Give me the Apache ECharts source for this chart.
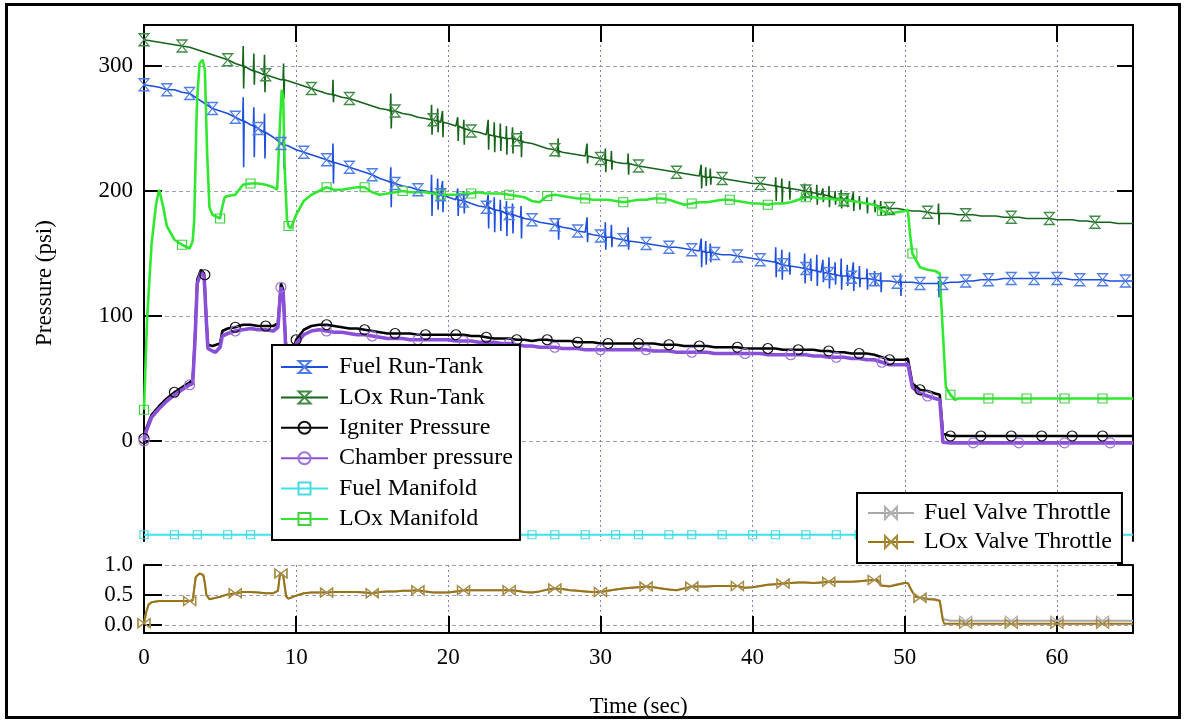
<!DOCTYPE html>
<html>
<head>
<meta charset="utf-8">
<script src="https://cdn.jsdelivr.net/npm/echarts@6.0.0/dist/echarts.min.js"></script>
<style>
html,body{margin:0;padding:0;background:#fff;}
#chart{width:1185px;height:721px;}
</style>
</head>
<body>
<div id="chart"></div>
<script>
// ---------------- DATA ----------------
// Values sampled every 0.5 s from t = 0 to t = 65 s (131 samples each)
const SAMPLE_STEP = 0.5;

const fuelRunTank = [
285,284,283,281,281,279,278,274,270,266,
264,262,259,256,253,250,247,243,238,236,
233,231,229,227,225,223,221,219,217,215,
213,210,208,206,204,203,201,200,199,197,
195,193,192,190,188,187,185,183,182,180,
178,177,175,174,173,171,170,168,167,165,
164,163,162,161,160,159,158,157,156,155,
155,154,153,152,151,150,149,149,148,147,
146,145,144,143,141,140,139,138,137,135,
134,133,132,131,130,130,129,128,128,127,
127,127,126,126,126,126,127,127,128,128,
129,129,129,130,130,130,130,130,130,130,
130,130,129,129,129,129,129,128,128,128,
128];
// pressure transients: [time, high, low, base level]
const fuelRunTankSpikes = [
[6.52,275,219,256],[7.22,267,227,252],[7.92,262,226,247],[9.17,245,218,237],[12.42,238,206,223],[16.22,219,187,207],
[18.9,213,180,199],[19.3,210,185,198],[19.62,208,183,197],[20.62,202,180,193],[21.02,200,182,192],
[22.62,197,170,187],[23.02,195,167,185],[23.42,193,168,184],[23.82,192,164,182],[24.22,190,166,181],[24.78,188,162,179],
[27.22,178,161,172],[29.12,179,159,166],[30.32,175,153,163],[30.72,173,155,163],[31.82,171,153,160],
[36.62,162,139,152],[36.92,160,141,151],[37.22,158,143,151],
[41.52,155,131,143],[41.92,153,129,141],[42.42,151,133,140],
[43.42,150,126,138],[43.82,146,128,137],[44.22,149,124,136],[44.62,145,127,135],[45.02,147,122,134],[45.42,143,125,133],
[45.82,146,121,132],[46.22,141,124,132],[46.62,143,120,131],[47.02,140,123,130],[47.52,138,121,130],[48.02,136,124,129],
[48.42,135,119,128],[49.72,134,116,127],[52.22,128,115,126]
];

const loxRunTank = [
321,320,319,318,317,316,315,313,311,309,
307,305,302,300,297,295,293,291,289,288,
286,284,282,280,278,277,275,274,272,270,
268,266,265,264,262,261,259,258,257,255,
254,252,250,248,247,245,244,243,242,241,
239,238,236,234,233,231,230,229,228,227,
226,225,223,222,221,220,219,218,217,216,
215,214,213,212,211,211,210,209,208,207,
206,206,205,204,203,202,201,200,198,197,
196,194,193,192,191,190,189,187,186,186,
185,184,184,183,182,182,182,181,181,181,
180,180,180,179,179,179,178,178,178,178,
177,177,177,176,176,175,175,175,174,174,
174];
const loxRunTankSpikes = [
[6.52,316,282,300],[7.22,310,285,296],[7.92,309,279,293],[9.17,302,274,289],[12.42,289,271,277],[16.22,278,250,264],
[18.9,269,245,257],[19.3,266,247,256],[19.62,264,243,255],[20.62,259,240,252],[21.02,257,237,250],
[22.62,257,233,245],[23.02,255,231,244],[23.42,254,232,243],[23.82,252,229,242],[24.22,251,230,242],[24.78,248,227,240],
[27.22,242,227,232],[29.12,238,222,228],[30.32,234,215,225],[30.72,232,217,224],[31.82,230,213,222],
[36.62,221,202,212],[36.92,219,204,211],[37.22,218,205,211],
[41.52,211,192,204],[41.92,210,190,203],[42.42,208,193,202],
[43.42,206,192,200],[43.82,203,193,199],[44.22,205,189,198],[44.62,202,191,197],[45.02,204,187,196],[45.42,200,189,194],
[45.82,201,186,194],[46.22,198,187,193],[46.62,199,184,192],[47.02,196,185,191],[47.52,195,182,190],[48.02,193,183,189],
[48.42,192,180,187],[52.22,190,173,182]
];

const igniterPressure = [
2,21,28,34,39,43,47,129,133,76,
78,90,91,93,93,92,92,92,126,60,
81,89,92,93,93,92,91,90,90,89,
88,87,86,86,86,86,85,85,85,85,
85,85,85,84,84,83,82,82,82,81,
81,80,81,81,80,80,80,79,79,79,
78,78,78,78,78,78,78,78,77,77,
77,76,76,76,76,75,75,75,75,74,
74,74,74,74,73,73,73,73,73,72,
72,71,71,70,70,70,69,67,65,65,
65,46,41,40,38,6,4,4,4,4,
4,4,4,4,4,4,4,4,4,4,
4,4,4,4,4,4,4,4,4,4,
4];
// extra detail points [time, value]
const igniterDetail = [
[0.15,10],[3.2,49],[3.35,83],[3.75,137],[3.95,134],[4.1,97],[4.2,77],[5.15,88],
[8.8,94],[9.15,121],[9.3,81],[50.2,66],[52.3,37],[52.45,15]
];

const chamberPressure = [
0,19,26,32,37,41,45,126,131,72,
75,86,88,89,90,89,89,88,123,58,
78,85,88,89,88,87,87,86,85,85,
84,83,82,82,82,81,81,81,81,81,
81,80,80,80,79,79,79,78,78,77,
76,76,75,75,75,74,74,74,73,73,
73,73,73,73,73,73,73,72,72,72,
71,71,71,71,71,70,70,70,70,70,
70,70,69,69,69,69,69,69,68,68,
67,67,67,66,66,65,65,63,61,61,
61,43,38,36,34,-1,-1.5,-1.5,-1.5,-1.5,
-1.5,-1.5,-1.5,-1.5,-1.5,-1.5,-1.5,-1.5,-1.5,-1.5,
-1.5,-1.5,-1.5,-1.5,-1.5,-1.5,-1.5,-1.5,-1.5,-1.5,
-1.5];
const chamberDetail = [
[0.15,8],[3.2,46],[3.35,80],[3.75,135],[3.95,132],[4.1,95],[4.2,74],[4.7,71],[5.15,84],
[8.8,91],[9.15,118],[9.3,78],[50.2,62],[52.3,33],[52.45,10]
];

const fuelManifold = [
-75,-75,-75,-75,-75,-75,-75,-75,-75,-75,
-75,-75,-75,-75,-75,-75,-75,-75,-75,-75,
-75,-75,-75,-75,-75,-75,-75,-75,-75,-75,
-75,-75,-75,-75,-75,-75,-75,-75,-75,-75,
-75,-75,-75,-75,-75,-75,-75,-75,-75,-75,
-75,-75,-75,-75,-75,-75,-75,-75,-75,-75,
-75,-75,-75,-75,-75,-75,-75,-75,-75,-75,
-75,-75,-75,-75,-75,-75,-75,-75,-75,-75,
-75,-75,-75,-75,-75,-75,-75,-75,-75,-75,
-75,-75,-75,-75,-75,-75,-75,-75,-75,-75,
-75,-75,-75,-75,-75,-75,-75,-75,-75,-75,
-75,-75,-75,-75,-75,-75,-75,-75,-75,-75,
-75,-75,-75,-75,-75,-75,-75,-75,-75,-75,
-75];

const loxManifold = [
25,158,201,172,161,157,154,275,297,181,
178,196,197,205,206,206,205,203,269,172,
181,192,197,200,203,201,201,202,203,203,
199,197,198,199,200,199,199,199,198,197,
197,197,198,198,199,198,198,198,197,196,
195,192,191,196,197,196,195,194,194,193,
193,193,192,191,192,193,193,194,194,193,
191,189,190,191,191,192,193,193,192,191,
190,190,189,190,190,191,193,195,195,194,
194,193,193,192,191,190,189,184,182,183,
184,150,139,137,136,88,37,34,34,34,
34,34,34,34,34,34,34,34,34,34,
34,34,34,34,34,34,34,34,34,34,
34];
const loxManifoldDetail = [
[0.2,97],[0.8,190],[1.25,188],[3.2,160],[3.3,177],[3.45,257],[3.65,302],[3.85,305],
[4.15,230],[4.3,187],[5.1,185],[5.3,195],[8.75,201],[8.95,257],[9.05,281],[9.15,275],
[9.25,217],[9.4,177],[9.65,170],[50.2,185],[50.35,165],[52.3,134],[52.4,110],[52.7,43],[53.3,33]
];

const loxValveThrottle = [
0.03,0.38,0.40,0.40,0.40,0.40,0.40,0.83,0.70,0.44,
0.47,0.51,0.53,0.55,0.55,0.54,0.53,0.53,0.86,0.44,
0.49,0.53,0.54,0.54,0.54,0.55,0.55,0.55,0.55,0.54,
0.53,0.55,0.56,0.56,0.57,0.57,0.58,0.56,0.54,0.54,
0.54,0.56,0.58,0.58,0.58,0.58,0.58,0.58,0.58,0.57,
0.55,0.54,0.56,0.59,0.61,0.60,0.58,0.57,0.56,0.55,
0.55,0.57,0.59,0.61,0.62,0.63,0.64,0.63,0.61,0.59,
0.58,0.61,0.64,0.64,0.64,0.65,0.65,0.65,0.65,0.62,
0.63,0.65,0.67,0.68,0.69,0.70,0.71,0.71,0.70,0.71,
0.72,0.72,0.72,0.72,0.73,0.74,0.75,0.64,0.64,0.67,
0.70,0.55,0.45,0.43,0.42,0.08,0.02,0.02,0.02,0.02,
0.02,0.02,0.02,0.02,0.02,0.02,0.02,0.02,0.02,0.02,
0.02,0.02,0.02,0.02,0.02,0.02,0.02,0.02,0.02,0.02,
0.02];
const loxValveDetail = [
[0.15,0.22],[0.3,0.34],[3.2,0.41],[3.4,0.80],[3.65,0.86],[3.9,0.83],[4.1,0.50],[4.3,0.43],
[8.8,0.57],[8.95,0.87],[9.15,0.82],[9.35,0.47],[48.2,0.75],[48.4,0.66],[50.2,0.70],[50.35,0.62],
[50.7,0.47],[52.3,0.40],[52.6,0.02]
];

const fuelValveThrottle = [
0.03,0.38,0.40,0.40,0.40,0.40,0.40,0.83,0.70,0.44,
0.47,0.51,0.53,0.55,0.55,0.54,0.53,0.53,0.86,0.44,
0.49,0.53,0.54,0.54,0.54,0.55,0.55,0.55,0.55,0.54,
0.53,0.55,0.56,0.56,0.57,0.57,0.58,0.56,0.54,0.54,
0.54,0.56,0.58,0.58,0.58,0.58,0.58,0.58,0.58,0.57,
0.55,0.54,0.56,0.59,0.61,0.60,0.58,0.57,0.56,0.55,
0.55,0.57,0.59,0.61,0.62,0.63,0.64,0.63,0.61,0.59,
0.58,0.61,0.64,0.64,0.64,0.65,0.65,0.65,0.65,0.62,
0.63,0.65,0.67,0.68,0.69,0.70,0.71,0.71,0.70,0.71,
0.72,0.72,0.72,0.72,0.73,0.74,0.75,0.66,0.65,0.68,
0.70,0.56,0.46,0.44,0.43,0.10,0.07,0.07,0.07,0.07,
0.07,0.07,0.07,0.07,0.07,0.07,0.07,0.07,0.07,0.07,
0.07,0.07,0.07,0.07,0.07,0.07,0.07,0.07,0.07,0.07,
0.07];
const fuelValveDetail = [
[0.15,0.22],[0.3,0.34],[3.2,0.41],[3.4,0.80],[3.65,0.86],[3.9,0.83],[4.1,0.50],[4.3,0.43],
[8.8,0.57],[8.95,0.87],[9.15,0.82],[9.35,0.47],[48.2,0.76],[48.4,0.70],[50.2,0.70],[50.35,0.63],
[50.7,0.48],[52.3,0.41],[52.6,0.07]
];

const timeTicks = [0,10,20,30,40,50,60];
const pressureTicks = [0,100,200,300];
const throttleTicks = [0,0.5,1.0];

// ---------------- BUILD ----------------
const FONT = 'Liberation Serif';
const T_MAX = 65;

function buildData(grid, detail, spikes, markerStep) {
  const pts = grid.map((v, i) => ({t: i * SAMPLE_STEP, v: v, g: true, i: i}));
  (detail || []).forEach(p => pts.push({t: p[0], v: p[1]}));
  (spikes || []).forEach(s => {
    pts.push({t: s[0] - 0.03, v: s[3]});
    pts.push({t: s[0], v: s[1]});
    pts.push({t: s[0] + 0.03, v: s[2]});
    pts.push({t: s[0] + 0.06, v: s[3]});
  });
  pts.sort((a, b) => a.t - b.t);
  const marked = new Set();
  for (let k = 0; k * markerStep <= T_MAX + 1e-6; k++) marked.add(Math.round(k * markerStep / SAMPLE_STEP));
  return pts.map(p => (p.g && marked.has(p.i)) ? {value: [p.t, p.v]} : {value: [p.t, p.v], symbol: 'none'});
}

const HOURGLASS = 'path://M0,0L10,0L0,12L10,12Z';
const BOWTIE = 'path://M0,0L0,10L12,0L12,10Z';

function line(name, data, color, markColor, width, symbol, size, xi, yi) {
  return {
    type: 'line', name: name, data: data, xAxisIndex: xi, yAxisIndex: yi,
    symbol: symbol, symbolSize: size, showSymbol: true, showAllSymbol: true,
    lineStyle: {color: color, width: width},
    itemStyle: {color: 'rgba(255,255,255,0)', borderColor: markColor, borderWidth: 1.2},
    emphasis: {disabled: true}, animation: false, silent: true
  };
}

const series = [
  line('Fuel Run-Tank', buildData(fuelRunTank, null, fuelRunTankSpikes, 1.505), '#1e4fdc', '#4d7de6', 1.6, HOURGLASS, [10, 12], 0, 0),
  line('LOx Run-Tank', buildData(loxRunTank, null, loxRunTankSpikes, 2.71), '#15641a', '#3f8a44', 1.6, HOURGLASS, [10, 12], 0, 0),
  line('Igniter Pressure', buildData(igniterPressure, igniterDetail, null, 2.04), '#000000', '#111111', 2.6, 'circle', 10, 0, 0),
  line('Chamber pressure', buildData(chamberPressure, chamberDetail, null, 3.02), '#8a4fd8', '#9c72dc', 3.6, 'circle', 10, 0, 0),
  line('Fuel Manifold', buildData(fuelManifold, null, null, 1.81), '#3ee2e8', '#4ad8e0', 2, 'rect', 8, 0, 0),
  line('LOx Manifold', buildData(loxManifold, loxManifoldDetail, null, 2.415), '#30e830', '#42cf42', 2.6, 'rect', 9, 0, 0),
  line('Fuel Valve Throttle', buildData(fuelValveThrottle, fuelValveDetail, null, 3.0), '#a8a8a8', '#b0b0b0', 2, BOWTIE, [12, 9], 1, 2),
  line('LOx Valve Throttle', buildData(loxValveThrottle, loxValveDetail, null, 3.0), '#9a7414', '#a88a3a', 2, BOWTIE, [12, 9], 1, 2)
];

const axisLineStyle = {color: '#000', width: 2};
const labelStyle = {fontFamily: FONT, fontSize: 23, color: '#000'};
const vGrid = {show: true, lineStyle: {color: '#7c7cc6', type: [2, 3], width: 1}};
const hGrid = {show: true, lineStyle: {color: '#9c9cb8', type: [4, 3], width: 1}};

const option = {
  backgroundColor: '#fff',
  animation: false,
  grid: [
    {left: 144, top: 25, width: 989, height: 516},
    {left: 144, top: 565, width: 989, height: 68}
  ],
  xAxis: [
    {gridIndex: 0, type: 'value', position: 'top', min: 0, max: T_MAX, interval: 10,
     axisLine: {show: true, onZero: false, lineStyle: axisLineStyle},
     axisTick: {show: true, inside: true, length: 17, lineStyle: axisLineStyle, customValues: timeTicks.slice(1)},
     axisLabel: {show: false},
     splitLine: vGrid},
    {gridIndex: 1, type: 'value', position: 'bottom', min: 0, max: T_MAX, interval: 10,
     name: 'Time (sec)', nameLocation: 'middle', nameGap: 62,
     nameTextStyle: {fontFamily: FONT, fontSize: 23, color: '#000'},
     axisLine: {show: true, onZero: false, lineStyle: axisLineStyle},
     axisTick: {show: true, inside: true, length: 17, lineStyle: axisLineStyle, customValues: timeTicks},
     axisLabel: Object.assign({customValues: timeTicks, margin: 13}, labelStyle),
     splitLine: vGrid}
  ],
  yAxis: [
    {gridIndex: 0, type: 'value', position: 'left', min: -80, max: 332.8,
     name: 'Pressure (psi)', nameLocation: 'middle', nameGap: 88,
     nameTextStyle: {fontFamily: FONT, fontSize: 23, color: '#000'},
     axisLine: {show: true, onZero: false, lineStyle: axisLineStyle},
     axisTick: {show: true, inside: true, length: 18, lineStyle: axisLineStyle, customValues: pressureTicks},
     axisLabel: Object.assign({customValues: pressureTicks, margin: 11}, labelStyle),
     splitLine: hGrid},
    {gridIndex: 0, type: 'value', position: 'right', min: -80, max: 332.8,
     axisLine: {show: true, onZero: false, lineStyle: axisLineStyle},
     axisTick: {show: true, inside: true, length: 16, lineStyle: axisLineStyle, customValues: pressureTicks.slice(1)},
     axisLabel: {show: false}, splitLine: {show: false}},
    {gridIndex: 1, type: 'value', position: 'left', min: -0.1333, max: 1.0,
     axisLine: {show: true, onZero: false, lineStyle: axisLineStyle},
     axisTick: {show: true, inside: true, length: 18, lineStyle: axisLineStyle, customValues: throttleTicks},
     axisLabel: Object.assign({customValues: throttleTicks, margin: 11, formatter: v => Number(v).toFixed(1)}, labelStyle),
     splitLine: hGrid},
    {gridIndex: 1, type: 'value', position: 'right', min: -0.1333, max: 1.0,
     axisLine: {show: true, onZero: false, lineStyle: axisLineStyle},
     axisTick: {show: true, inside: true, length: 16, lineStyle: axisLineStyle, customValues: throttleTicks.slice(1)},
     axisLabel: {show: false}, splitLine: {show: false}}
  ],
  legend: [
    {data: ['Fuel Run-Tank', 'LOx Run-Tank', 'Igniter Pressure', 'Chamber pressure', 'Fuel Manifold', 'LOx Manifold'],
     orient: 'vertical', left: 272, top: 345, padding: [10, 7, 9, 8],
     backgroundColor: '#fff', borderColor: '#000', borderWidth: 2,
     itemWidth: 47, itemHeight: 15, itemGap: 6.4, selectedMode: false,
     textStyle: {fontFamily: FONT, fontSize: 24, color: '#000', lineHeight: 24, padding: [0, 0, 0, 6]}},
    {data: ['Fuel Valve Throttle', 'LOx Valve Throttle'],
     orient: 'vertical', left: 857, top: 493, padding: [8, 10, 9, 10],
     backgroundColor: '#fff', borderColor: '#000', borderWidth: 2,
     itemWidth: 46, itemHeight: 15, itemGap: 5, selectedMode: false,
     textStyle: {fontFamily: FONT, fontSize: 24, color: '#000', lineHeight: 24, padding: [0, 0, 0, 5]}}
  ],
  graphic: [
    {type: 'rect', silent: true, z: 100,
     shape: {x: 6.5, y: 4.5, width: 1173, height: 713},
     style: {fill: 'none', stroke: '#000', lineWidth: 3}}
  ],
  series: series
};

const chart = echarts.init(document.getElementById('chart'), null, {renderer: 'canvas'});
chart.setOption(option);
</script>
</body>
</html>
